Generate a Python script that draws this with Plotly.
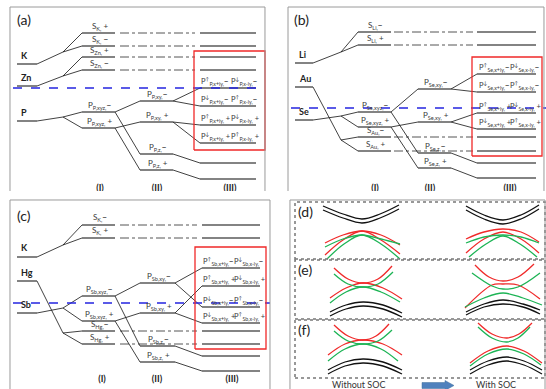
import plotly.graph_objects as go

W, H = 546, 389
MN = "<b>−</b>"
FONT = "Lato"

# ================= DATA =================
# ---- panel (a): K / Zn / P  (energies in arbitrary units, up = higher) ----
a_atoms = ["K", "Zn", "P"]
a_atom_E = [131, 109, 74]
a_split_E = [143, 119, 78]
a_I_labels = ["S<sub>K,</sub> +", "S<sub>K,</sub> " + MN, "S<sub>Zn,</sub> +", "S<sub>Zn,</sub> " + MN,
              "P<sub>P,xyz,</sub>" + MN, "P<sub>P,xyz,</sub> +"]
a_I_E = [162, 149, 138, 125, 83, 67]
a_I_parent = [0, 0, 1, 1, 2, 2]
a_II_labels = ["P<sub>P,xy,</sub>" + MN, "P<sub>P,xy,</sub> +", "P<sub>P,z,</sub>" + MN, "P<sub>P,z,</sub> +"]
a_II_E = [94, 73, 41, 25]
a_II_parent = [4, 5, 4, 5]
a_III_E = [107, 89, 70, 52, 32, 16]
a_III_parent = [0, 0, 1, 1, 2, 3]
a_III_left = ["P<sup>↑</sup><sub>P,x+iy,</sub>" + MN, "P<sup>↓</sup><sub>P,x+iy,</sub>" + MN,
              "P<sup>↑</sup><sub>P,x+iy,</sub> +", "P<sup>↓</sup><sub>P,x+iy,</sub> +"]
a_III_right = ["P<sup>↓</sup><sub>P,x-iy,</sub>" + MN, "P<sup>↑</sup><sub>P,x-iy,</sub>" + MN,
               "P<sup>↓</sup><sub>P,x-iy,</sub> +", "P<sup>↑</sup><sub>P,x-iy,</sub> +"]
a_EF = 107

# ---- panel (b): Li / Au / Se ----
b_atoms = ["Li", "Au", "Se"]
b_atom_E = [132, 108, 75]
b_split_E = [143, 55, 79]
b_I_labels = ["S<sub>Li,</sub>" + MN, "S<sub>Li,</sub> +", "S<sub>Au,</sub>" + MN, "S<sub>Au,</sub> +",
              "P<sub>Se,xyz,</sub>" + MN, "P<sub>Se,xyz,</sub> +"]
b_I_E = [163, 150, 58, 44, 83, 68]
b_I_parent = [0, 0, 1, 1, 2, 2]
b_II_labels = ["P<sub>Se,xy,</sub>" + MN, "P<sub>Se,xy,</sub> +", "P<sub>Se,z,</sub>" + MN, "P<sub>Se,z,</sub> +"]
b_II_E = [106, 73, 42, 27]
b_II_parent = [4, 5, 4, 5]
b_III_E = [121, 103, 82, 66, 32, 17]
b_III_parent = [0, 0, 1, 1, 2, 3]
b_III_left = ["P<sup>↑</sup><sub>Se,x+iy,</sub>" + MN, "P<sup>↓</sup><sub>Se,x+iy,</sub>" + MN,
              "P<sup>↑</sup><sub>Se,x+iy,</sub> +", "P<sup>↓</sup><sub>Se,x+iy,</sub> +"]
b_III_right = ["P<sup>↓</sup><sub>Se,x-iy,</sub>" + MN, "P<sup>↑</sup><sub>Se,x-iy,</sub>" + MN,
               "P<sup>↓</sup><sub>Se,x-iy,</sub> +", "P<sup>↑</sup><sub>Se,x-iy,</sub> +"]
b_EF = 87

# ---- panel (c): K / Hg / Sb ----
c_atoms = ["K", "Hg", "Sb"]
c_atom_E = [132, 108, 76]
c_split_E = [144, 56, 81]
c_I_labels = ["S<sub>K,</sub>" + MN, "S<sub>K,</sub> +", "S<sub>Hg,</sub>" + MN, "S<sub>Hg,</sub> +",
              "P<sub>Sb,xyz,</sub>" + MN, "P<sub>Sb,xyz,</sub> +"]
c_I_E = [164, 151, 58, 45, 93, 68]
c_I_parent = [0, 0, 1, 1, 2, 2]
c_II_labels = ["P<sub>Sb,xy,</sub>" + MN, "P<sub>Sb,xy,</sub> +", "P<sub>Sb,z,</sub>" + MN, "P<sub>Sb,z,</sub> +"]
c_II_E = [106, 76, 43, 27]
c_II_parent = [4, 5, 4, 5]
c_III_E = [121, 103, 82, 66, 33, 18]
c_III_parent = [0, 1, 0, 1, 2, 3]
c_III_left = ["P<sup>↑</sup><sub>Sb,x+iy,</sub>" + MN, "P<sup>↑</sup><sub>Sb,x+iy,</sub> +",
              "P<sup>↓</sup><sub>Sb,x+iy,</sub>" + MN, "P<sup>↓</sup><sub>Sb,x+iy,</sub> +"]
c_III_right = ["P<sup>↓</sup><sub>Sb,x-iy,</sub>" + MN, "P<sup>↓</sup><sub>Sb,x-iy,</sub> +",
               "P<sup>↑</sup><sub>Sb,x-iy,</sub>" + MN, "P<sup>↑</sup><sub>Sb,x-iy,</sub> +"]
c_EF = 86

roman = ["(I)", "(II)", "(III)"]

# ---- panels (d)(e)(f): schematic bands, (k, E) points ----
d_wo_black = [([50, 70, 89, 107, 126], [183, 175, 170, 175, 184]),
              ([50, 70, 89, 107, 126], [179, 171, 166, 171, 180])]
d_wo_red = [([52, 70, 89, 108, 127], [146, 154, 158, 154, 144]),
            ([52, 70, 89, 108, 127], [134, 149, 158, 149, 135])]
d_wo_green = [([52, 70, 89, 108, 127], [142, 150, 154, 150, 145]),
              ([54, 71, 89, 108, 127], [130, 145, 154, 145, 130])]
d_w_black = [([193, 211, 230, 248, 266], [183, 174, 169, 174, 184]),
             ([193, 211, 230, 248, 266], [179, 170, 165, 170, 180])]
d_w_red = [([193, 211, 230, 248, 266], [150, 157, 160, 157, 147]),
           ([193, 211, 230, 248, 266], [136, 150, 157, 150, 136])]
d_w_green = [([193, 211, 230, 248, 266], [146, 152, 154, 152, 146]),
             ([196, 213, 230, 247, 264], [132, 145, 153, 145, 132])]

e_wo_black = [([57, 73, 90, 110, 129], [77, 84, 87, 84, 76]),
              ([57, 73, 90, 110, 129], [73, 80, 83, 80, 72])]
e_wo_red = [([61, 75, 90, 105, 119], [121, 110, 106, 110, 123]),
            ([57, 73, 90, 110, 129], [91, 101, 106, 101, 90])]
e_wo_green = [([61, 75, 90, 105, 120], [115, 105, 102, 105, 117]),
              ([57, 73, 90, 108, 127], [86, 97, 102, 97, 87])]
e_w_black = [([193, 211, 230, 250, 267], [77, 85, 89, 85, 79]),
             ([193, 211, 230, 250, 267], [74, 82, 85, 82, 75])]
e_w_red = [([202, 216, 230, 245, 261], [124, 112, 108, 112, 125]),
           ([192, 219, 230, 245, 267], [81, 104, 105, 104, 90])]
e_w_green = [([199, 219, 230, 245, 267], [116, 103, 100, 102, 116]),
             ([192, 211, 230, 250, 269], [82, 91, 96, 91, 84])]

f_wo_black = [([55, 72, 90, 110, 129], [19, 27, 30, 27, 19]),
              ([55, 72, 90, 110, 129], [15, 23, 26, 23, 15])]
f_wo_red = [([61, 75, 90, 103, 116], [64, 53, 49, 53, 65]),
            ([55, 72, 90, 110, 129], [34, 45, 49, 45, 34])]
f_wo_green = [([61, 75, 90, 105, 119], [58, 48, 45, 48, 59]),
              ([55, 72, 90, 108, 125], [28, 40, 45, 40, 28])]
f_w_black = [([197, 215, 234, 251, 269], [19, 28, 32, 28, 19]),
             ([197, 215, 234, 251, 269], [15, 24, 28, 24, 15])]
f_w_red = [([205, 219, 234, 246, 259], [66, 55, 51, 55, 66]),
           ([197, 215, 234, 251, 269], [26, 38, 43, 38, 26])]
f_w_green = [([205, 219, 234, 245, 257], [62, 51, 47, 51, 62]),
             ([197, 215, 234, 251, 268], [23, 35, 40, 35, 24])]

# ================= FIGURE =================
fig = go.Figure()
ann = []
shapes = []

LEVEL_C = "#5a5a5a"
CONN_C = "#111111"
TXT_C = "#3a3a3a"


def axn(n):
    return ("x" if n == 1 else f"x{n}"), ("y" if n == 1 else f"y{n}")


def seg(xs, ys, x0, y0, x1, y1):
    xs += [x0, x1, None]
    ys += [y0, y1, None]


def draw_levels(n, atoms, atom_E, split_E, I_lab, I_E, I_par, II_lab, II_E, II_par,
                III_E, III_par, III_l, III_r, EF, g):
    xa, ya = axn(n)
    lx, ly, cx, cy, dx, dy = [], [], [], [], [], []
    for i, E in enumerate(atom_E):
        seg(lx, ly, g["atom"][0], E, g["atom"][1], E)
        seg(cx, cy, g["atom"][1], E, g["junc"], split_E[i])
        ann.append(dict(xref=xa, yref=ya, x=g["atom"][0] + 2, y=E + 1.5, text="<b>%s</b>" % atoms[i],
                        showarrow=False, xanchor="left", yanchor="bottom",
                        font=dict(size=9, color="#222", family=FONT)))
    for j, E in enumerate(I_E):
        seg(lx, ly, g["I"][0], E, g["I"][1], E)
        seg(cx, cy, g["junc"], split_E[I_par[j]], g["I"][0], E)
        if j < 4:
            seg(dx, dy, g["dd"][0], E, g["dd"][1], E)
            seg(lx, ly, g["III"][0], E, g["III"][1], E)
        ann.append(dict(xref=xa, yref=ya, x=(g["I"][0] + g["I"][1]) / 2 + 1, y=E - 0.5, text=I_lab[j],
                        showarrow=False, xanchor="center", yanchor="bottom",
                        font=dict(size=8, color=TXT_C, family=FONT)))
    for k, E in enumerate(II_E):
        seg(lx, ly, g["II"][0], E, g["II"][1], E)
        seg(cx, cy, g["I"][1], I_E[II_par[k]], g["II"][0], E)
        ann.append(dict(xref=xa, yref=ya, x=(g["II"][0] + g["II"][1]) / 2 + 1, y=E - 0.5, text=II_lab[k],
                        showarrow=False, xanchor="center", yanchor="bottom",
                        font=dict(size=8, color=TXT_C, family=FONT)))
    for m, E in enumerate(III_E):
        seg(lx, ly, g["III"][0], E, g["III"][1], E)
        seg(cx, cy, g["II"][1], II_E[III_par[m]], g["III"][0], E)
        if m < 4:
            for xl, t in ((g["lab1"], III_l[m]), (g["lab2"], III_r[m])):
                ann.append(dict(xref=xa, yref=ya, x=xl, y=E - 0.5, text=t,
                                showarrow=False, xanchor="left", yanchor="bottom",
                                font=dict(size=7.5, color=TXT_C, family=FONT)))
    fig.add_trace(go.Scatter(x=dx, y=dy, mode="lines", xaxis=xa, yaxis=ya, hoverinfo="skip",
                             line=dict(color="#555", width=1, dash="dashdot")))
    fig.add_trace(go.Scatter(x=cx, y=cy, mode="lines", xaxis=xa, yaxis=ya, hoverinfo="skip",
                             line=dict(color=CONN_C, width=0.8)))
    fig.add_trace(go.Scatter(x=lx, y=ly, mode="lines", xaxis=xa, yaxis=ya, hoverinfo="skip",
                             line=dict(color=LEVEL_C, width=1.5)))
    # Fermi level
    fig.add_trace(go.Scatter(x=[g["ef"][0], g["ef"][1]], y=[EF, EF], mode="lines", xaxis=xa, yaxis=ya,
                             hoverinfo="skip", line=dict(color="#2424e0", width=1.6, dash="dash")))
    # red box
    bx0, bx1, by0, by1 = g["box"]
    fig.add_trace(go.Scatter(x=[bx0, bx1, bx1, bx0, bx0], y=[by0, by0, by1, by1, by0], mode="lines",
                             xaxis=xa, yaxis=ya, hoverinfo="skip", line=dict(color="#f02828", width=1.3)))
    # roman column labels (clipped by axis area)
    fig.add_trace(go.Scatter(x=g["roman_x"], y=[g["roman_E"]] * 3, mode="text",
                             text=["<b>%s</b>" % r for r in roman],
                             xaxis=xa, yaxis=ya, hoverinfo="skip", cliponaxis=True,
                             textfont=dict(size=9, color="#222", family=FONT)))
    ann.append(dict(xref=xa, yref=ya, x=g["letter"][0], y=g["letter"][1], text=g["letter"][2],
                    showarrow=False, xanchor="left", yanchor="top",
                    font=dict(size=14, color="#222", family=FONT)))


geo_a = dict(atom=(17, 37), junc=63, I=(82, 115), II=(140, 173), III=(200, 256), dd=(120, 195),
             lab1=199, lab2=229, ef=(13, 265), box=(194, 265, 45, 144),
             roman_x=[100, 157, 230], roman_E=6, letter=(15, 186, "(a)"))
geo_b = dict(atom=(22, 40), junc=68, I=(85, 118), II=(145, 178), III=(204, 263), dd=(121, 200),
             lab1=204, lab2=235, ef=(18, 273), box=(199, 269, 39, 138),
             roman_x=[102, 157, 237], roman_E=6, letter=(19, 186, "(b)"))
geo_c = dict(atom=(17, 37), junc=63, I=(82, 115), II=(140, 175), III=(202, 260), dd=(120, 197),
             lab1=201, lab2=232, ef=(13, 270), box=(195, 266, 40, 142),
             roman_x=[102, 157, 232], roman_E=9, letter=(15, 184, "(c)"))

draw_levels(1, a_atoms, a_atom_E, a_split_E, a_I_labels, a_I_E, a_I_parent, a_II_labels, a_II_E,
            a_II_parent, a_III_E, a_III_parent, a_III_left, a_III_right, a_EF, geo_a)
draw_levels(2, b_atoms, b_atom_E, b_split_E, b_I_labels, b_I_E, b_I_parent, b_II_labels, b_II_E,
            b_II_parent, b_III_E, b_III_parent, b_III_left, b_III_right, b_EF, geo_b)
draw_levels(3, c_atoms, c_atom_E, c_split_E, c_I_labels, c_I_E, c_I_parent, c_II_labels, c_II_E,
            c_II_parent, c_III_E, c_III_parent, c_III_left, c_III_right, c_EF, geo_c)

# ---- band panels ----
band_sets = [(d_wo_black, "#111111"), (d_wo_red, "#f02a2a"), (d_wo_green, "#1db455"),
             (d_w_black, "#111111"), (d_w_red, "#f02a2a"), (d_w_green, "#1db455"),
             (e_wo_black, "#111111"), (e_wo_red, "#f02a2a"), (e_wo_green, "#1db455"),
             (e_w_black, "#111111"), (e_w_red, "#f02a2a"), (e_w_green, "#1db455"),
             (f_wo_black, "#111111"), (f_wo_red, "#f02a2a"), (f_wo_green, "#1db455"),
             (f_w_black, "#111111"), (f_w_red, "#f02a2a"), (f_w_green, "#1db455")]
for curves, col in band_sets:
    for xs, es in curves:
        fig.add_trace(go.Scatter(x=xs, y=es, mode="lines", xaxis="x4", yaxis="y4", hoverinfo="skip",
                                 line=dict(color=col, width=1.3, shape="spline", smoothing=1.0)))

for (y0, y1, lab) in [(130, 187, "(d)"), (70, 129, "(e)"), (11, 69, "(f)")]:
    shapes.append(dict(type="rect", xref="x4", yref="y4", x0=22, x1=272, y0=y0, y1=y1,
                       line=dict(color="#777", width=1.5, dash="dot")))
    ann.append(dict(xref="x4", yref="y4", x=23, y=y1 + 1, text=lab, showarrow=False,
                    xanchor="left", yanchor="top", font=dict(size=14, color="#222", family=FONT)))
ann.append(dict(xref="x4", yref="y4", x=85, y=5, text="Without SOC", showarrow=False,
                xanchor="center", yanchor="middle", font=dict(size=9, color="#333", family=FONT)))
ann.append(dict(xref="x4", yref="y4", x=223, y=5, text="With SOC", showarrow=False,
                xanchor="center", yanchor="middle", font=dict(size=9, color="#333", family=FONT)))


def P(x, y):
    return x / W, 1 - y / H


# arrow (paper coords)
pts = [(422, 382.5), (445, 382.5), (445, 380.5), (454, 385.5), (445, 390.5), (445, 388.5), (422, 388.5)]
path = "M " + " L ".join("%.4f,%.4f" % P(x, y) for x, y in pts) + " Z"
shapes.append(dict(type="path", xref="paper", yref="paper", path=path,
                   fillcolor="#4f81bd", line=dict(color="#41719c", width=0.5)))

# panel frames
for poly in [[(10, 191), (10, 7), (265, 7), (265, 191)],
             [(288, 191), (288, 7), (544, 7), (544, 191)],
             [(10, 389), (10, 200), (270, 200), (270, 389)],
             [(290, 389), (290, 200), (545, 200), (545, 389)]]:
    p = "M " + " L ".join("%.4f,%.4f" % P(x, y) for x, y in poly)
    shapes.append(dict(type="path", xref="paper", yref="paper", path=p,
                       line=dict(color="#9a9a9a", width=1)))

ax_common = dict(visible=False, fixedrange=True, showgrid=False, zeroline=False)
top_dom = [1 - 191 / H, 1]
bot_dom = [0, 194 / H]
fig.update_layout(
    width=W, height=H, autosize=False,
    margin=dict(l=0, r=0, t=0, b=0),
    paper_bgcolor="white", plot_bgcolor="rgba(0,0,0,0)",
    showlegend=False,
    xaxis=dict(domain=[0, 0.5], range=[0, 273], **ax_common),
    yaxis=dict(domain=top_dom, range=[4, 195], **ax_common),
    xaxis2=dict(domain=[0.5, 1], range=[0, 273], **ax_common),
    yaxis2=dict(domain=top_dom, range=[4, 195], **ax_common),
    xaxis3=dict(domain=[0, 0.5], range=[0, 273], **ax_common),
    yaxis3=dict(domain=bot_dom, range=[0, 194], **ax_common),
    xaxis4=dict(domain=[0.5, 1], range=[0, 273], **ax_common),
    yaxis4=dict(domain=bot_dom, range=[0, 194], **ax_common),
    annotations=ann,
    shapes=shapes,
    font=dict(family=FONT),
)

fig.write_html("out.html", config={"displayModeBar": False},
               post_script="document.body.style.margin='0';document.body.style.overflow='hidden';")
